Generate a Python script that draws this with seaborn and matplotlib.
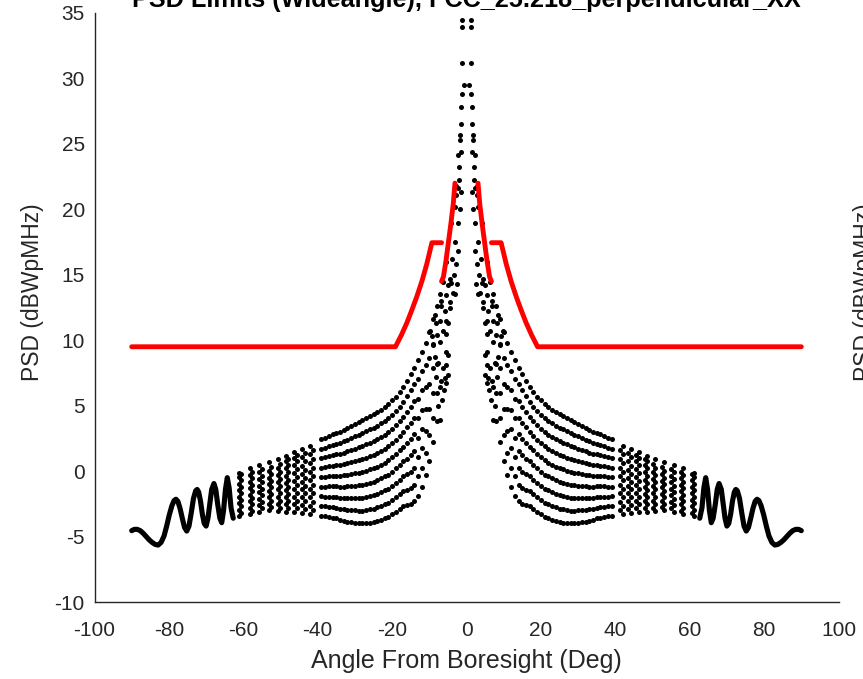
import matplotlib
matplotlib.use("Agg")
import matplotlib.pyplot as plt
import pandas as pd
import seaborn as sns

# ---------------- data (left half, angles < 0; the pattern is symmetric about boresight) ----
wave_angle = [-90.0, -89.3, -88.5, -87.7, -86.9, -86.1, -85.3, -84.5, -83.7, -82.9, -82.1,
              -81.3, -80.6, -79.9, -79.2, -78.6, -78.1, -77.6, -77.0, -76.4, -75.8, -75.2,
              -74.6, -74.0, -73.4, -72.8, -72.4, -72.0, -71.5, -71.0, -70.5, -70.0, -69.5,
              -69.0, -68.5, -67.9, -67.4, -66.9, -66.3, -65.8, -65.3, -64.8, -64.3, -63.8,
              -63.3, -62.7]
wave_psd = [-4.55, -4.45, -4.45, -4.55, -4.75, -5.0, -5.25, -5.45, -5.6, -5.65, -5.45,
            -4.95, -4.2, -3.35, -2.65, -2.25, -2.15, -2.3, -2.85, -3.6, -4.3, -4.58,
            -4.2, -3.2, -2.1, -1.5, -1.4, -1.6, -2.3, -3.3, -4.0, -4.2, -3.6,
            -2.5, -1.4, -0.95, -1.4, -2.5, -3.6, -3.94, -3.0, -1.4, -0.5, -1.3,
            -2.8, -3.6]

lobe_angle = [-61.25, -60.55, -58.25, -57.55, -55.65, -54.95, -53.15, -52.45, -50.75,
              -50.05, -48.55, -47.85, -46.35, -45.65, -44.15, -43.45, -41.95, -41.25]
lobe_psd = [
    [-3.45, -2.95, -2.45, -1.95, -1.45, -0.95, -0.45, -0.12],
    [-3.2, -2.7, -2.2, -1.7, -1.2, -0.7, -0.25],
    [-3.3, -2.8, -2.3, -1.8, -1.3, -0.8, -0.3, 0.2],
    [-3.05, -2.55, -2.05, -1.55, -1.05, -0.55, -0.05],
    [-3.1, -2.6, -2.1, -1.6, -1.1, -0.6, -0.1, 0.45],
    [-2.85, -2.35, -1.85, -1.35, -0.85, -0.35, 0.15],
    [-3.0, -2.5, -2.0, -1.5, -1.0, -0.5, 0.0, 0.7],
    [-2.75, -2.25, -1.75, -1.25, -0.75, -0.25, 0.3],
    [-3.05, -2.5, -1.95, -1.4, -0.85, -0.3, 0.25, 0.95],
    [-2.8, -2.25, -1.7, -1.15, -0.6, -0.05, 0.55],
    [-3.1, -2.55, -2.0, -1.45, -0.9, -0.35, 0.2, 0.75, 1.15],
    [-2.85, -2.3, -1.75, -1.2, -0.65, -0.1, 0.45, 0.95],
    [-3.15, -2.55, -1.95, -1.35, -0.75, -0.15, 0.45, 1.0, 1.45],
    [-2.85, -2.25, -1.65, -1.05, -0.45, 0.15, 0.75, 1.25],
    [-3.2, -2.6, -2.0, -1.4, -0.8, -0.2, 0.4, 1.1, 1.7],
    [-2.9, -2.3, -1.7, -1.1, -0.5, 0.1, 0.75, 1.4],
    [-3.3, -2.65, -2.0, -1.35, -0.7, -0.05, 0.6, 1.3, 1.95],
    [-3.0, -2.35, -1.7, -1.05, -0.4, 0.25, 0.95, 1.6],
]

band_angle = [-39, -38, -37, -36, -35, -34, -33, -32, -31, -30, -29, -28, -27, -26, -25,
              -24, -23, -22, -21, -20, -19, -18, -17, -16, -15, -14, -13, -12, -11, -10,
              -9, -8]
band_psd = [
    [2.45, 1.7, 0.98, 0.25, -0.48, -1.2, -1.93, -2.65, -3.4],
    [2.55, 1.8, 1.05, 0.3, -0.45, -1.2, -1.95, -2.7, -3.45],
    [2.7, 1.92, 1.15, 0.38, -0.4, -1.17, -1.95, -2.72, -3.5],
    [2.8, 2.0, 1.21, 0.42, -0.37, -1.16, -1.96, -2.75, -3.55],
    [2.9, 2.09, 1.28, 0.46, -0.35, -1.16, -1.97, -2.79, -3.6],
    [3.0, 2.16, 1.32, 0.49, -0.35, -1.19, -2.03, -2.86, -3.7],
    [3.15, 2.28, 1.41, 0.54, -0.33, -1.19, -2.06, -2.93, -3.8],
    [3.3, 2.41, 1.51, 0.62, -0.28, -1.17, -2.06, -2.96, -3.85],
    [3.45, 2.53, 1.61, 0.69, -0.23, -1.14, -2.06, -2.98, -3.9],
    [3.6, 2.66, 1.71, 0.77, -0.18, -1.12, -2.06, -3.0, -3.95],
    [3.75, 2.78, 1.81, 0.84, -0.13, -1.09, -2.06, -3.03, -4.0],
    [3.9, 2.91, 1.93, 0.94, -0.05, -1.04, -2.03, -3.01, -4.0],
    [4.05, 3.04, 2.04, 1.03, 0.03, -0.98, -1.99, -2.99, -4.0],
    [4.2, 3.18, 2.16, 1.14, 0.13, -0.89, -1.91, -2.93, -3.95],
    [4.35, 3.32, 2.29, 1.26, 0.23, -0.81, -1.84, -2.87, -3.9],
    [4.5, 3.46, 2.43, 1.39, 0.35, -0.69, -1.73, -2.76, -3.8],
    [4.7, 3.65, 2.6, 1.55, 0.5, -0.55, -1.6, -2.65, -3.7],
    [4.9, 3.84, 2.78, 1.71, 0.65, -0.41, -1.48, -2.54, -3.6],
    [5.15, 4.07, 2.99, 1.91, 0.83, -0.26, -1.34, -2.42, -3.5],
    [5.4, 4.31, 3.23, 2.14, 1.05, -0.04, -1.13, -2.21, -3.3],
    [5.7, 4.6, 3.5, 2.4, 1.3, 0.2, -0.9, -2.0, -3.1],
    [6.05, 4.93, 3.81, 2.69, 1.58, 0.46, -0.66, -1.78, -2.9],
    [6.45, 5.31, 4.17, 3.02, 1.88, 0.74, -0.41, -1.55, -2.7],
    [6.9, 5.71, 4.53, 3.34, 2.15, 0.96, -0.22, -1.41, -2.6],
    [7.4, 6.16, 4.93, 3.69, 2.45, 1.21, -0.03, -1.26, -2.5],
    [7.9, 6.63, 5.35, 4.08, 2.8, 1.53, 0.25, -1.03, -2.3],
    [8.5, 7.01, 5.53, 4.04, 2.56, 1.07, -0.41, -1.9],
    [9.1, 7.63, 6.16, 4.69, 3.21, 1.74, 0.27, -1.2],
    [9.8, 8.12, 6.43, 4.75, 3.07, 1.38, -0.3],
    [10.6, 8.64, 6.68, 4.72, 2.76, 0.8],
    [11.6, 9.72, 7.84, 5.96, 4.08, 2.2],
    [12.6, 10.4, 8.2, 6.0, 3.8],
]

core_angle = [-1.08, -1.08, -1.08, -0.75, -1.6, -1.8, -1.8, -1.35, -2.25, -2.0, -2.9, -2.3,
              -1.35, -2.9, -3.15, -1.8, -4.05, -2.3, -3.15, -5.4, -2.9, -4.5, -5.0, -4.05,
              -6.3, -7.2, -5.4, -3.15, -6.75, -4.5, -6.75, -4.5, -5.85, -8.55, -7.2, -8.1,
              -5.4, -4.95, -6.3, -5.4, -9.9, -9.4, -7.2, -9.0, -8.55, -5.4, -4.95, -7.65,
              -6.3, -5.4, -8.1, -5.85, -4.95, -7.2, -5.4,
              -6.6, -6.0, -7.1, -7.6, -6.9, -3.6, -2.6, -3.4, -2.4, -3.8, -2.1, -1.4, -1.2]
core_psd = [34.46, 33.9, 31.15, 29.5, 27.85, 25.7, 25.3, 24.4, 24.15, 22.25, 21.8, 21.6,
            21.35, 21.1, 20.2, 20.0, 18.95, 18.95, 17.5, 16.0, 15.8, 14.7, 14.2, 14.35,
            14.45, 13.5, 13.45, 13.5, 13.0, 12.95, 12.6, 12.5, 12.2, 11.9, 11.5, 11.3,
            11.5, 11.3, 10.7, 10.5, 10.7, 10.3, 9.9, 9.6, 8.75, 9.1, 8.85, 8.25,
            7.85, 8.1, 7.2, 7.1, 7.35, 6.45, 6.7,
            5.4, 6.2, 3.9, 5.0, 6.9, 13.6, 14.3, 15.0, 16.8, 16.2, 23.2, 26.5, 28.8]

mask_outer_angle = [-90.0, -19.1, -17.5, -16.0, -14.7, -13.4, -12.0, -10.7, -9.3, -6.7]
mask_outer_psd = [9.5, 9.5, 10.4, 11.35, 12.3, 13.3, 14.5, 15.8, 17.45, 17.45]
mask_inner_angle = [-6.7, -6.2, -5.5, -4.9, -4.2, -3.55, -3.1]
mask_inner_psd = [14.5, 14.85, 16.1, 17.4, 18.9, 20.45, 22.0]

title_text = "PSD Limits (Wideangle), FCC_25.218_perpendicular_XX"
x_label = "Angle From Boresight (Deg)"
y_label = "PSD (dBWpMHz)"
x_ticks = [-100, -80, -60, -40, -20, 0, 20, 40, 60, 80, 100]
y_ticks = [-10, -5, 0, 5, 10, 15, 20, 25, 30, 35]

# ---------------- assemble tables ----------------
dots = []
for xs, ys in ((lobe_angle, lobe_psd), (band_angle, band_psd)):
    for a, col in zip(xs, ys):
        for v in col:
            dots.append((a, v))
dots += list(zip(core_angle, core_psd))
dots_df = pd.DataFrame(dots, columns=["angle", "psd"])
dots_all = pd.concat([dots_df, dots_df.assign(angle=-dots_df["angle"])], ignore_index=True)

def both_sides(xs, ys, name):
    left = pd.DataFrame({"angle": xs, "psd": ys, "seg": name + "_L"})
    right = pd.DataFrame({"angle": [-a for a in xs], "psd": ys, "seg": name + "_R"})
    return pd.concat([left, right], ignore_index=True)

wave_df = both_sides(wave_angle, wave_psd, "wave")
mask_df = pd.concat([both_sides(mask_outer_angle, mask_outer_psd, "outer"),
                     both_sides(mask_inner_angle, mask_inner_psd, "inner")],
                    ignore_index=True)

# ---------------- style ----------------
sns.set_theme(style="white")
plt.rcParams["font.family"] = ["Liberation Sans", "DejaVu Sans"]
plt.rcParams["axes.unicode_minus"] = False
axis_col = "#262626"

fig = plt.figure(figsize=(8.63, 6.79), dpi=100)
ax = fig.add_axes([94.5 / 863, 1 - 602 / 679, 744 / 863, 589 / 679])

for seg, d in mask_df.groupby("seg"):
    sns.lineplot(data=d, x="angle", y="psd", sort=False, estimator=None,
                 color="#ff0000", lw=3.5, ax=ax, legend=False)
for seg, d in wave_df.groupby("seg"):
    sns.lineplot(data=d, x="angle", y="psd", sort=False, estimator=None,
                 color="black", lw=3.7, ax=ax, legend=False)
sns.scatterplot(data=dots_all, x="angle", y="psd", color="black", s=13,
                linewidth=0, marker="o", ax=ax, legend=False)

ax.set_xlim(-100, 100)
ax.set_ylim(-10, 35)
ax.set_xticks(x_ticks)
ax.set_yticks(y_ticks)
ax.set_xlabel("")
ax.set_ylabel("")
for s in ("top", "right"):
    ax.spines[s].set_visible(False)
for s in ("left", "bottom"):
    ax.spines[s].set_color(axis_col)
    ax.spines[s].set_linewidth(1.0)
ax.tick_params(direction="in", length=4, width=1, colors=axis_col, labelsize=15)
ax.tick_params(axis="x", pad=14)
ax.tick_params(axis="y", pad=7)

fig.text(466.5 / 863, 1 - 668 / 679, x_label, ha="center", va="baseline",
         fontsize=18, color=axis_col)
fig.text(32 / 863, 1 - 292 / 679, y_label, ha="center", va="center", rotation=90,
         fontsize=16.5, color=axis_col)
fig.text(853 / 863, 1 - 292 / 679, y_label, ha="left", va="center", rotation=90,
         fontsize=16.5, color=axis_col)
fig.text(466.5 / 863, 1 - 6.5 / 679, title_text, ha="center", va="baseline",
         fontsize=18.2, fontweight="bold", color="black")

fig.savefig("out.png", dpi=100)
